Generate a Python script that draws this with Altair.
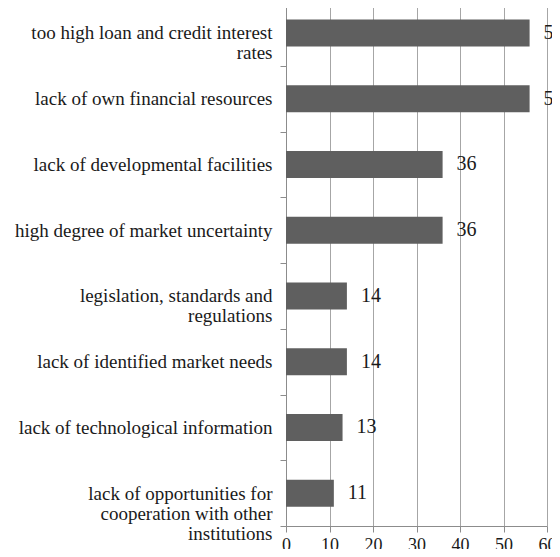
import altair as alt
import pandas as pd

categories = [
    "too high loan and credit interest\nrates",
    "lack of own financial resources",
    "lack of developmental facilities",
    "high degree of market uncertainty",
    "legislation, standards and\nregulations",
    "lack of identified market needs",
    "lack of technological information",
    "lack of opportunities for\ncooperation with other\ninstitutions",
]
values = [56, 56, 36, 36, 14, 14, 13, 11]
x_ticks = [0, 10, 20, 30, 40, 50, 60]

df = pd.DataFrame({"cat": categories, "val": values})

FONT = "Liberation Serif"

y_enc = alt.Y(
    "cat:N",
    sort=categories,
    scale=alt.Scale(paddingInner=0, paddingOuter=0),
    axis=alt.Axis(
        title=None,
        labelExpr="split(datum.label, '\\n')",
        labelFont=FONT,
        labelFontSize=19,
        labelLineHeight=20,
        labelColor="#1a1a1a",
        labelPadding=8,
        tickSize=6,
        tickBand="extent",
        tickColor="#8c8c8c",
        domainColor="#8c8c8c",
        grid=False,
        labelLimit=400,
        minExtent=278,
        maxExtent=278,
    ),
)

x_enc = alt.X(
    "val:Q",
    scale=alt.Scale(domain=[0, 60], nice=False),
    axis=alt.Axis(
        title=None,
        values=x_ticks,
        labelFont=FONT,
        labelFontSize=18,
        labelColor="#1a1a1a",
        labelPadding=4,
        tickSize=6,
        tickColor="#8c8c8c",
        domainColor="#8c8c8c",
        grid=True,
        gridColor="#a6a6a6",
        labelFlush=False,
    ),
)

bars = alt.Chart(df).mark_bar(size=27, color="#5f5f5f").encode(y=y_enc, x=x_enc)

labels = alt.Chart(df).mark_text(
    align="left", baseline="middle", dx=14, font=FONT, fontSize=20, color="#1a1a1a"
).encode(y=alt.Y("cat:N", sort=categories), x="val:Q", text="val:Q")

chart = (
    alt.layer(bars, labels)
    .properties(
        width=261,
        height=526,
        autosize=alt.AutoSizeParams(type="none"),
        padding={"left": 278, "top": -8, "right": 5, "bottom": 23},
    )
    .configure_view(stroke=None)
)

chart.save("out.html", embed_options={"renderer": "svg", "actions": False})
